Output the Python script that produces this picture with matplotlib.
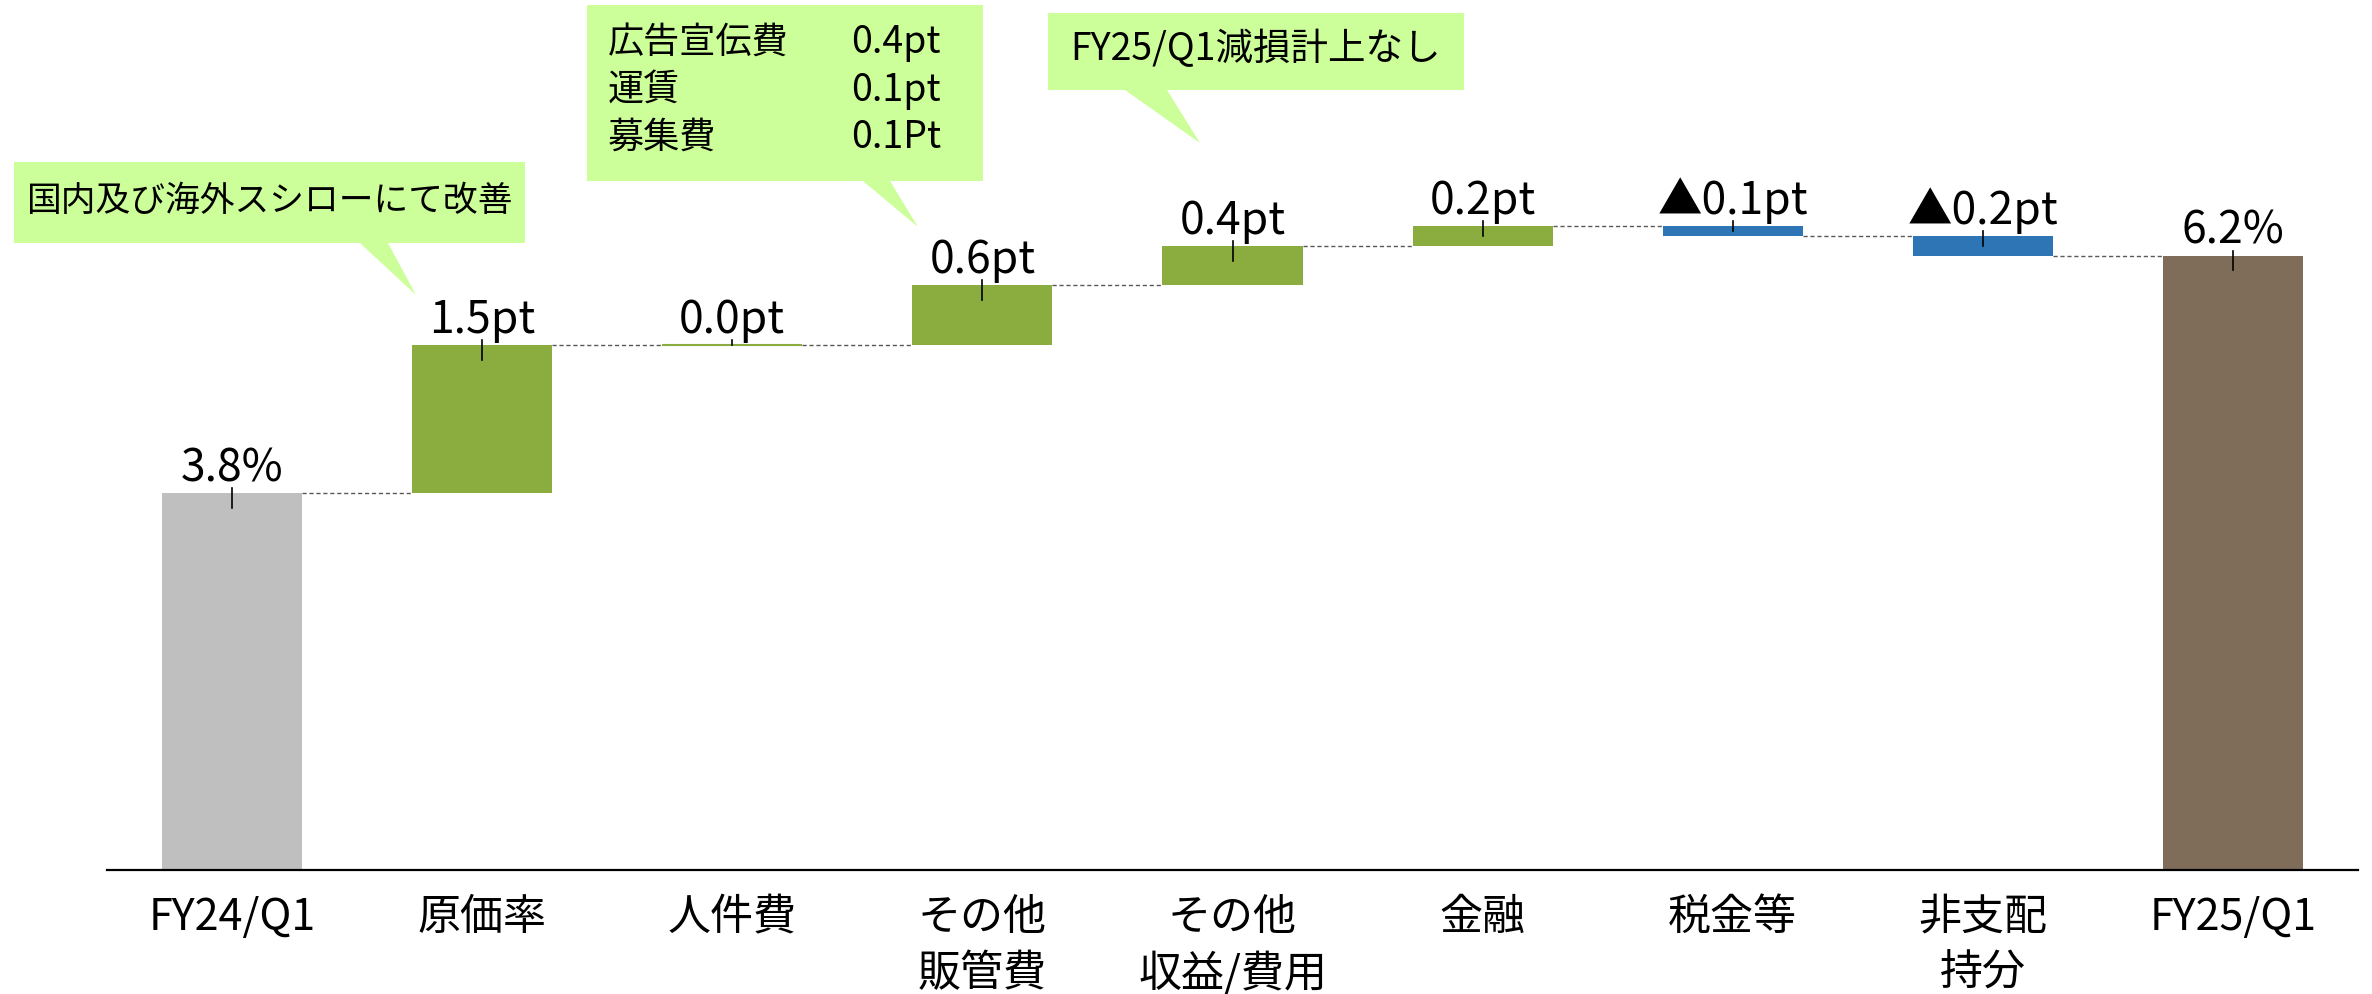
import matplotlib
matplotlib.use("Agg")
import matplotlib.pyplot as plt
from matplotlib.patches import Polygon
import numpy as np

plt.rcParams['font.family'] = ['Noto Sans CJK JP', 'DejaVu Sans']

# ---- data ----
categories = ["FY24/Q1", "原価率", "人件費", "その他\n販管費", "その他\n収益/費用",
              "金融", "税金等", "非支配\n持分", "FY25/Q1"]
start_value = 3.8
deltas = [1.5, 0.0, 0.6, 0.4, 0.2, -0.1, -0.2]
end_value = 6.2
value_labels = ["3.8%", "1.5pt", "0.0pt", "0.6pt", "0.4pt", "0.2pt", "▲0.1pt", "▲0.2pt", "6.2%"]

callout1 = "国内及び海外スシローにて改善"
callout2_items = ["広告宣伝費", "運賃", "募集費"]
callout2_values = ["0.4pt", "0.1pt", "0.1Pt"]
callout3 = "FY25/Q1減損計上なし"

# ---- styles ----
C_START = "#BFBFBF"
C_UP = "#8BAD3F"
C_DOWN = "#2E75B6"
C_END = "#7F6D5A"
C_CALLOUT = "#CCFF99"

W, H = 2372, 995
fig = plt.figure(figsize=(W / 100, H / 100), dpi=100)
ax = fig.add_axes([107 / W, 1 - 871 / H, (2358 - 107) / W, 871 / H])

n = len(categories)
x = np.arange(n)
bar_w = 0.56

# waterfall geometry from data
bottoms, heights, colors = [], [], []
bottoms.append(0.0); heights.append(start_value); colors.append(C_START)
run = start_value
for d in deltas:
    if d >= 0:
        bottoms.append(run); heights.append(d); colors.append(C_UP)
    else:
        bottoms.append(run + d); heights.append(-d); colors.append(C_DOWN)
    run += d
bottoms.append(0.0); heights.append(end_value); colors.append(C_END)
levels = list(np.cumsum([start_value] + deltas))  # running totals after each bar

for i in range(n):
    ax.bar(x[i], heights[i], bottom=bottoms[i], width=bar_w, color=colors[i],
           edgecolor=colors[i], linewidth=1.5 if heights[i] == 0 else 0, zorder=2)
    upper = bottoms[i] + heights[i]
    tick_low = upper - min(0.15, heights[i] / 2)
    ax.plot([x[i], x[i]], [upper + 0.05, tick_low], color="black", lw=1.2, zorder=3)
    ax.text(x[i], upper + 0.13, value_labels[i], ha="center", va="baseline",
            fontsize=32, color="black", zorder=4)

# connectors
for i in range(n - 1):
    lvl = levels[i]
    ax.plot([x[i] + bar_w / 2, x[i + 1] - bar_w / 2], [lvl, lvl], color="#595959",
            lw=1.0, ls=(0, (3, 2)), zorder=1)

ax.set_xlim(-0.5, n - 0.5)
ax.set_ylim(0, 871 / 99.1)
for s in ["top", "right", "left"]:
    ax.spines[s].set_visible(False)
ax.spines["bottom"].set_linewidth(1.6)
ax.spines["bottom"].set_color("black")
ax.set_yticks([])
ax.set_xticks(x)
ax.set_xticklabels(categories, fontsize=31, linespacing=1.35)
ax.tick_params(axis="x", length=0, pad=18)


# ---- callouts (figure pixel coords, origin top-left) ----
def fp(px, py):
    return (px / W, 1 - py / H)


def callout(x0, y0, x1, y1, b1, b2, tip):
    pts = [(x0, y0), (x1, y0), (x1, y1), (b2, y1), tip, (b1, y1), (x0, y1)]
    poly = Polygon([fp(*p) for p in pts], closed=True, transform=fig.transFigure,
                   facecolor=C_CALLOUT, edgecolor="none", zorder=5)
    fig.patches.append(poly)


def ftext(px, py, s, ha, fs=26):
    fig.text(*fp(px, py), s, ha=ha, va="center", fontsize=fs, zorder=10)


callout(14, 163, 525, 244, 360, 388, (416, 296))
ftext(269, 201, callout1, "center", 25)

callout(587, 6, 983, 182, 863, 890, (918, 228))
line_y = [43, 91, 138]
for lab, val, yy in zip(callout2_items, callout2_values, line_y):
    ftext(608, yy, lab, "left")
    ftext(851, yy, val, "left", 27)

callout(1048, 14, 1464, 91, 1125, 1167, (1200, 144))
ftext(1256, 50, callout3, "center", 27)

fig.savefig("out.png", dpi=100)
